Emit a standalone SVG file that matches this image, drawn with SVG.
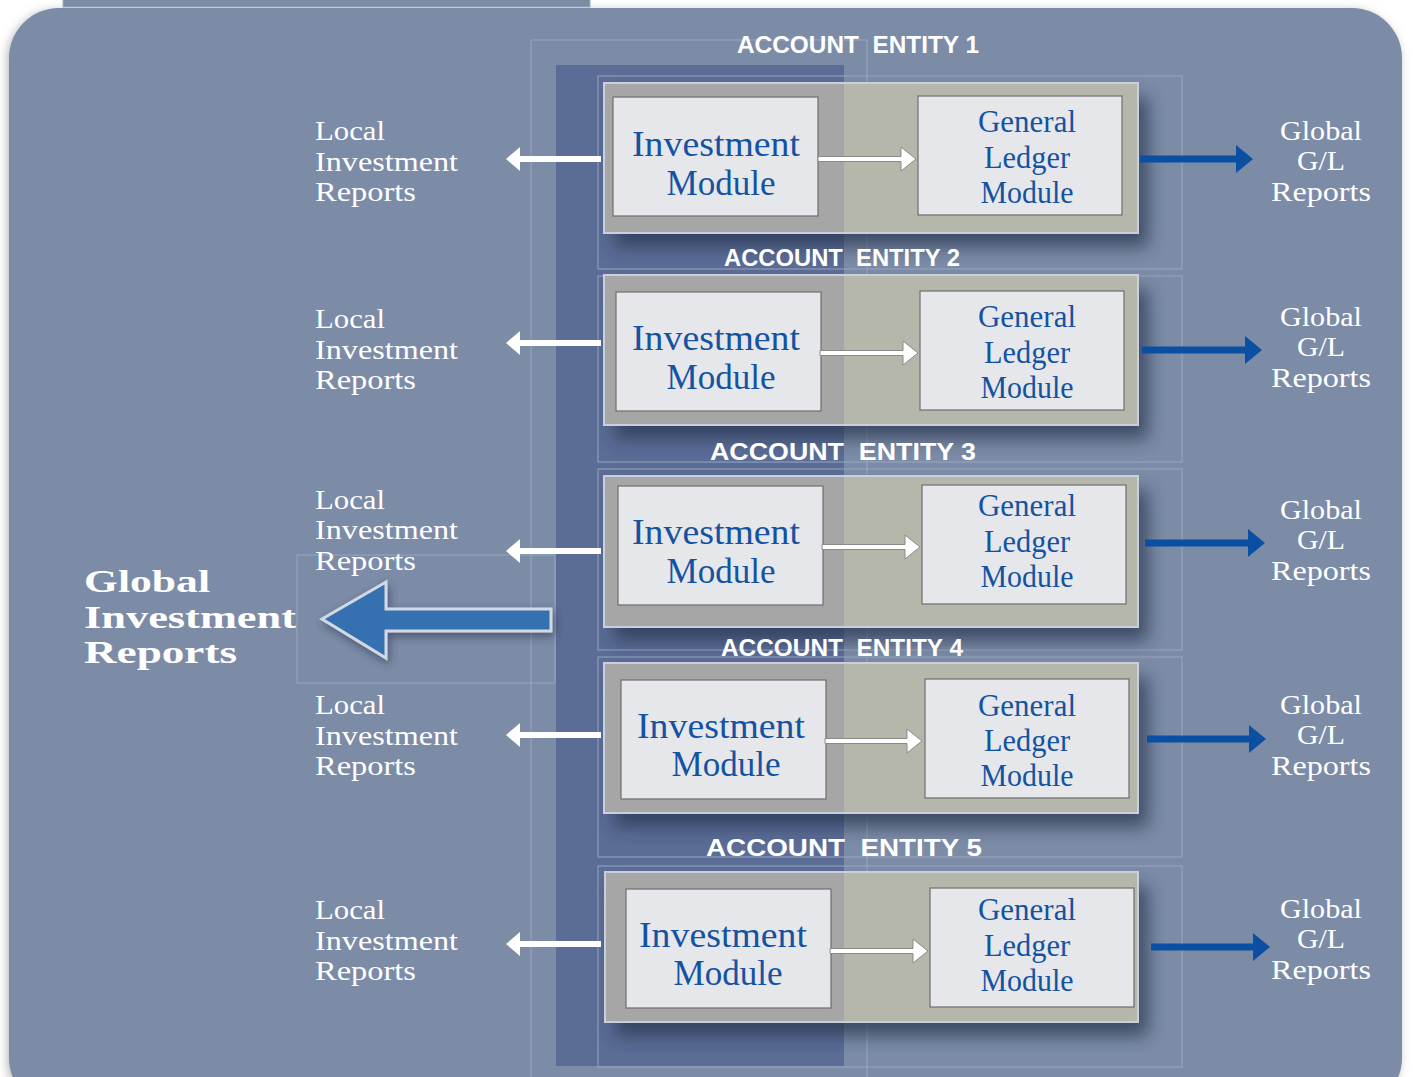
<svg xmlns="http://www.w3.org/2000/svg" width="1413" height="1077" viewBox="0 0 1413 1077">
<defs>
<filter id="pageSh" x="-5%" y="-5%" width="110%" height="110%"><feDropShadow dx="-2" dy="2" stdDeviation="5" flood-color="#8a8a8a" flood-opacity="0.6"/></filter>
<filter id="boxSh" x="-10%" y="-20%" width="130%" height="160%"><feDropShadow dx="10" dy="14" stdDeviation="9" flood-color="#283450" flood-opacity="0.75"/></filter>
<filter id="arrSh" x="-20%" y="-30%" width="140%" height="170%"><feDropShadow dx="2" dy="4" stdDeviation="5" flood-color="#2a3550" flood-opacity="0.6"/></filter>
</defs>
<style>
.bg{fill:#7B8CA7}
.col{fill:#5B6C96}
.faint{fill:none;stroke:#98A6C0;stroke-width:1}
.outL{fill:#A6A6A6}
.outR{fill:#B5B7AB}
.outB{fill:none;stroke:#C9CFDC;stroke-width:2}
.mod{fill:#E6E7EA;stroke:#6F6F6F;stroke-width:1.2}
.mt{font-family:"Liberation Serif",serif;fill:#1452A2;text-anchor:middle}
.inv{font-size:35px}
.gl{font-size:31px}
.wt{font-family:"Liberation Serif",serif;fill:#FFFFFF;font-size:27px}
.gt{text-anchor:middle}
.ttl{font-family:"Liberation Sans",sans-serif;font-weight:bold;font-size:24px;fill:#FFFFFF;text-anchor:middle;white-space:pre}
.big{font-family:"Liberation Serif",serif;font-weight:bold;font-size:32px;fill:#FFFFFF}
.la{fill:#FFFFFF}
.ba{fill:#0B4FA3}
.ha{fill:#FFFFFF;stroke:#8A8A8A;stroke-width:1}
</style>
<rect width="1413" height="1077" fill="#FFFFFF"/>
<rect x="63" y="-2" width="527" height="9" class="bg" stroke="#A3AFC4" stroke-width="1"/>
<rect x="9" y="8" width="1393" height="1100" rx="50" ry="50" class="bg" filter="url(#pageSh)"/>
<rect x="556" y="65" width="288" height="1001" class="col"/>
<g id="faint-lines">
<line x1="531" y1="40" x2="867" y2="40" class="faint"/>
<line x1="531" y1="40" x2="531" y2="1077" class="faint"/>
<line x1="867" y1="40" x2="867" y2="1077" class="faint"/>
<rect x="598" y="76" width="584" height="193" class="faint"/>
<rect x="598" y="276" width="584" height="186" class="faint"/>
<rect x="598" y="469" width="584" height="181" class="faint"/>
<rect x="598" y="657" width="584" height="200" class="faint"/>
<rect x="598" y="866" width="584" height="201" class="faint"/>
<rect x="297" y="555" width="258" height="128" class="faint"/>
</g>

<g id="entity1">
<text x="858" y="53" class="ttl" textLength="242" lengthAdjust="spacingAndGlyphs">ACCOUNT  ENTITY 1</text>
<g filter="url(#boxSh)"><rect x="604" y="83" width="240" height="150" class="outL"/><rect x="844" y="83" width="294" height="150" class="outR"/></g>
<rect x="604" y="83" width="534" height="150" class="outB"/>
</g>
<g id="entity2">
<text x="842" y="266" class="ttl" textLength="236" lengthAdjust="spacingAndGlyphs">ACCOUNT  ENTITY 2</text>
<g filter="url(#boxSh)"><rect x="604" y="275" width="240" height="150" class="outL"/><rect x="844" y="275" width="294" height="150" class="outR"/></g>
<rect x="604" y="275" width="534" height="150" class="outB"/>
</g>
<g id="entity3">
<text x="843" y="460" class="ttl" textLength="266" lengthAdjust="spacingAndGlyphs">ACCOUNT  ENTITY 3</text>
<g filter="url(#boxSh)"><rect x="604" y="476" width="240" height="151" class="outL"/><rect x="844" y="476" width="294" height="151" class="outR"/></g>
<rect x="604" y="476" width="534" height="151" class="outB"/>
</g>
<g id="entity4">
<text x="842" y="656" class="ttl" textLength="242" lengthAdjust="spacingAndGlyphs">ACCOUNT  ENTITY 4</text>
<g filter="url(#boxSh)"><rect x="604" y="663" width="240" height="150" class="outL"/><rect x="844" y="663" width="294" height="150" class="outR"/></g>
<rect x="604" y="663" width="534" height="150" class="outB"/>
</g>
<g id="entity5">
<text x="844" y="856" class="ttl" textLength="276" lengthAdjust="spacingAndGlyphs">ACCOUNT  ENTITY 5</text>
<g filter="url(#boxSh)"><rect x="605" y="872" width="239" height="150" class="outL"/><rect x="844" y="872" width="294" height="150" class="outR"/></g>
<rect x="605" y="872" width="533" height="150" class="outB"/>
</g>

<g id="inv1"><rect x="613" y="97" width="205" height="119" class="mod"/><text class="mt inv"><tspan x="716" y="156" textLength="168" lengthAdjust="spacingAndGlyphs">Investment</tspan><tspan x="721" y="195" textLength="109" lengthAdjust="spacingAndGlyphs">Module</tspan></text></g>
<g id="gl1"><rect x="918" y="96" width="204" height="119" class="mod"/><text class="mt gl"><tspan x="1027" y="132" textLength="98" lengthAdjust="spacingAndGlyphs">General</tspan><tspan x="1027" y="168" textLength="86" lengthAdjust="spacingAndGlyphs">Ledger</tspan><tspan x="1027" y="203" textLength="93" lengthAdjust="spacingAndGlyphs">Module</tspan></text></g>
<g id="inv2"><rect x="616" y="292" width="205" height="119" class="mod"/><text class="mt inv"><tspan x="716" y="350" textLength="168" lengthAdjust="spacingAndGlyphs">Investment</tspan><tspan x="721" y="389" textLength="109" lengthAdjust="spacingAndGlyphs">Module</tspan></text></g>
<g id="gl2"><rect x="920" y="291" width="204" height="119" class="mod"/><text class="mt gl"><tspan x="1027" y="327" textLength="98" lengthAdjust="spacingAndGlyphs">General</tspan><tspan x="1027" y="363" textLength="86" lengthAdjust="spacingAndGlyphs">Ledger</tspan><tspan x="1027" y="398" textLength="93" lengthAdjust="spacingAndGlyphs">Module</tspan></text></g>
<g id="inv3"><rect x="618" y="486" width="205" height="119" class="mod"/><text class="mt inv"><tspan x="716" y="544" textLength="168" lengthAdjust="spacingAndGlyphs">Investment</tspan><tspan x="721" y="583" textLength="109" lengthAdjust="spacingAndGlyphs">Module</tspan></text></g>
<g id="gl3"><rect x="922" y="485" width="204" height="119" class="mod"/><text class="mt gl"><tspan x="1027" y="516" textLength="98" lengthAdjust="spacingAndGlyphs">General</tspan><tspan x="1027" y="552" textLength="86" lengthAdjust="spacingAndGlyphs">Ledger</tspan><tspan x="1027" y="587" textLength="93" lengthAdjust="spacingAndGlyphs">Module</tspan></text></g>
<g id="inv4"><rect x="621" y="680" width="205" height="119" class="mod"/><text class="mt inv"><tspan x="721" y="738" textLength="168" lengthAdjust="spacingAndGlyphs">Investment</tspan><tspan x="726" y="776" textLength="109" lengthAdjust="spacingAndGlyphs">Module</tspan></text></g>
<g id="gl4"><rect x="925" y="679" width="204" height="119" class="mod"/><text class="mt gl"><tspan x="1027" y="716" textLength="98" lengthAdjust="spacingAndGlyphs">General</tspan><tspan x="1027" y="751" textLength="86" lengthAdjust="spacingAndGlyphs">Ledger</tspan><tspan x="1027" y="786" textLength="93" lengthAdjust="spacingAndGlyphs">Module</tspan></text></g>
<g id="inv5"><rect x="626" y="889" width="205" height="119" class="mod"/><text class="mt inv"><tspan x="723" y="947" textLength="168" lengthAdjust="spacingAndGlyphs">Investment</tspan><tspan x="728" y="985" textLength="109" lengthAdjust="spacingAndGlyphs">Module</tspan></text></g>
<g id="gl5"><rect x="930" y="888" width="204" height="119" class="mod"/><text class="mt gl"><tspan x="1027" y="920" textLength="98" lengthAdjust="spacingAndGlyphs">General</tspan><tspan x="1027" y="956" textLength="86" lengthAdjust="spacingAndGlyphs">Ledger</tspan><tspan x="1027" y="991" textLength="93" lengthAdjust="spacingAndGlyphs">Module</tspan></text></g>

<g id="local1"><text class="wt"><tspan x="315" y="140" textLength="70" lengthAdjust="spacingAndGlyphs">Local</tspan><tspan x="315" y="171" textLength="143" lengthAdjust="spacingAndGlyphs">Investment</tspan><tspan x="315" y="201" textLength="101" lengthAdjust="spacingAndGlyphs">Reports</tspan></text></g>
<g id="local2"><text class="wt"><tspan x="315" y="328" textLength="70" lengthAdjust="spacingAndGlyphs">Local</tspan><tspan x="315" y="359" textLength="143" lengthAdjust="spacingAndGlyphs">Investment</tspan><tspan x="315" y="389" textLength="101" lengthAdjust="spacingAndGlyphs">Reports</tspan></text></g>
<g id="local3"><text class="wt"><tspan x="315" y="509" textLength="70" lengthAdjust="spacingAndGlyphs">Local</tspan><tspan x="315" y="539" textLength="143" lengthAdjust="spacingAndGlyphs">Investment</tspan><tspan x="315" y="570" textLength="101" lengthAdjust="spacingAndGlyphs">Reports</tspan></text></g>
<g id="local4"><text class="wt"><tspan x="315" y="714" textLength="70" lengthAdjust="spacingAndGlyphs">Local</tspan><tspan x="315" y="745" textLength="143" lengthAdjust="spacingAndGlyphs">Investment</tspan><tspan x="315" y="775" textLength="101" lengthAdjust="spacingAndGlyphs">Reports</tspan></text></g>
<g id="local5"><text class="wt"><tspan x="315" y="919" textLength="70" lengthAdjust="spacingAndGlyphs">Local</tspan><tspan x="315" y="950" textLength="143" lengthAdjust="spacingAndGlyphs">Investment</tspan><tspan x="315" y="980" textLength="101" lengthAdjust="spacingAndGlyphs">Reports</tspan></text></g>

<g id="global1"><text class="wt gt"><tspan x="1321" y="140" textLength="82" lengthAdjust="spacingAndGlyphs">Global</tspan><tspan x="1321" y="170" textLength="48" lengthAdjust="spacingAndGlyphs">G/L</tspan><tspan x="1321" y="201" textLength="100" lengthAdjust="spacingAndGlyphs">Reports</tspan></text></g>
<g id="global2"><text class="wt gt"><tspan x="1321" y="326" textLength="82" lengthAdjust="spacingAndGlyphs">Global</tspan><tspan x="1321" y="356" textLength="48" lengthAdjust="spacingAndGlyphs">G/L</tspan><tspan x="1321" y="387" textLength="100" lengthAdjust="spacingAndGlyphs">Reports</tspan></text></g>
<g id="global3"><text class="wt gt"><tspan x="1321" y="519" textLength="82" lengthAdjust="spacingAndGlyphs">Global</tspan><tspan x="1321" y="549" textLength="48" lengthAdjust="spacingAndGlyphs">G/L</tspan><tspan x="1321" y="580" textLength="100" lengthAdjust="spacingAndGlyphs">Reports</tspan></text></g>
<g id="global4"><text class="wt gt"><tspan x="1321" y="714" textLength="82" lengthAdjust="spacingAndGlyphs">Global</tspan><tspan x="1321" y="744" textLength="48" lengthAdjust="spacingAndGlyphs">G/L</tspan><tspan x="1321" y="775" textLength="100" lengthAdjust="spacingAndGlyphs">Reports</tspan></text></g>
<g id="global5"><text class="wt gt"><tspan x="1321" y="918" textLength="82" lengthAdjust="spacingAndGlyphs">Global</tspan><tspan x="1321" y="948" textLength="48" lengthAdjust="spacingAndGlyphs">G/L</tspan><tspan x="1321" y="979" textLength="100" lengthAdjust="spacingAndGlyphs">Reports</tspan></text></g>

<g id="global-investment-reports">
<text class="big"><tspan x="84" y="592" textLength="126" lengthAdjust="spacingAndGlyphs">Global</tspan><tspan x="84" y="628" textLength="212" lengthAdjust="spacingAndGlyphs">Investment</tspan><tspan x="84" y="663" textLength="153" lengthAdjust="spacingAndGlyphs">Reports</tspan></text>
</g>

<g id="connectors">
<path class="la" d="M506,159 L520,147 L520,156 L601,156 L601,162 L520,162 L520,171 Z"/>
<path class="la" d="M506,343 L520,331 L520,340 L601,340 L601,346 L520,346 L520,355 Z"/>
<path class="la" d="M506,551 L520,539 L520,548 L601,548 L601,554 L520,554 L520,563 Z"/>
<path class="la" d="M506,735 L520,723 L520,732 L601,732 L601,738 L520,738 L520,747 Z"/>
<path class="la" d="M506,944 L520,932 L520,941 L601,941 L601,947 L520,947 L520,956 Z"/>

<path class="ha" d="M818,156.5 L901,156.5 L901,147 L916,159 L901,171 L901,161.5 L818,161.5 Z"/>
<path class="ha" d="M820,350.5 L903,350.5 L903,341 L918,353 L903,365 L903,355.5 L820,355.5 Z"/>
<path class="ha" d="M822,544.5 L905,544.5 L905,535 L920,547 L905,559 L905,549.5 L822,549.5 Z"/>
<path class="ha" d="M825,738.5 L907,738.5 L907,729 L922,741 L907,753 L907,743.5 L825,743.5 Z"/>
<path class="ha" d="M830,948.5 L913,948.5 L913,939 L928,951 L913,963 L913,953.5 L830,953.5 Z"/>

<path class="ba" d="M1140,155.5 L1236,155.5 L1236,145 L1253,159 L1236,173 L1236,162.5 L1140,162.5 Z"/>
<path class="ba" d="M1142,346.5 L1245,346.5 L1245,336 L1262,350 L1245,364 L1245,353.5 L1142,353.5 Z"/>
<path class="ba" d="M1145,539.5 L1248,539.5 L1248,529 L1265,543 L1248,557 L1248,546.5 L1145,546.5 Z"/>
<path class="ba" d="M1147,735.5 L1249,735.5 L1249,725 L1266,739 L1249,753 L1249,742.5 L1147,742.5 Z"/>
<path class="ba" d="M1151,943.5 L1253,943.5 L1253,933 L1270,947 L1253,961 L1253,950.5 L1151,950.5 Z"/>

<path d="M322,619 L386,582 L386,609 L551,609 L551,631 L386,631 L386,658 Z" fill="#3570B1" stroke="#D3D9E4" stroke-width="3" filter="url(#arrSh)"/>
</g>
</svg>
